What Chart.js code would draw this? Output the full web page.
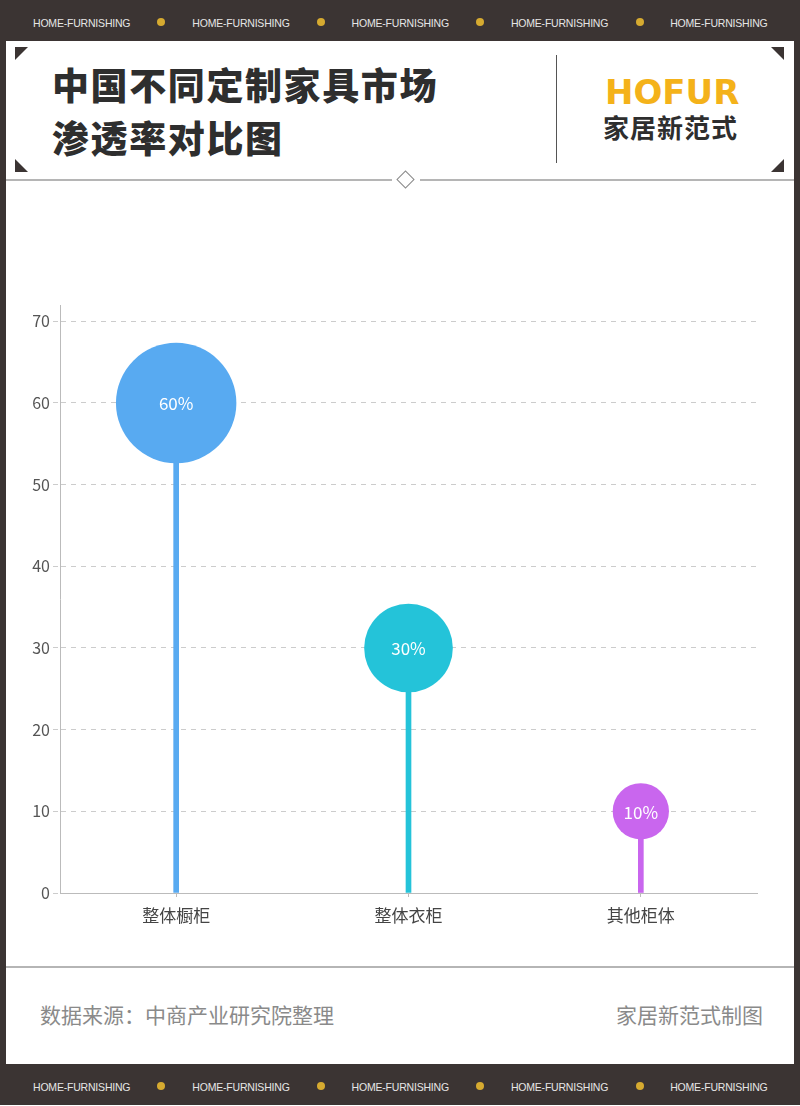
<!DOCTYPE html>
<html>
<head>
<meta charset="utf-8">
<script src="https://cdn.jsdelivr.net/npm/chart.js@4.4.1/dist/chart.umd.min.js"></script>
<style>
  html, body { margin: 0; padding: 0; background: #fff; }
  #page { position: relative; width: 800px; height: 1106px; overflow: hidden; background: #fff;
          font-family: "Noto Sans CJK SC", "Noto Sans", sans-serif; }
  .band { position: absolute; left: 0; width: 800px; height: 41px; background: #3b3433; }
  .band span.t { position: absolute; top: 3px; line-height: 40px; font-family: "Liberation Sans", sans-serif;
                 font-size: 10.5px; color: #e6e6e6; letter-spacing: -0.2px; }
  .band span.d { position: absolute; width: 8px; height: 8px; border-radius: 50%; background: #d6aa30; }
  .side { position: absolute; top: 40px; width: 6px; height: 1026px; background: #3b3433; }
  .tri { position: absolute; width: 0; height: 0; }
  .title { position: absolute; left: 52px; color: #2e2e2e; font-size: 37px; font-weight: 900; letter-spacing: 1.6px; }
  .hline { position: absolute; height: 2px; background: #b5b5b5; }
  #foot-l, #foot-r { position: absolute; top: 999px; font-size: 21px; color: #8a8a8a; }
</style>
</head>
<body>
<div id="page">
  <div class="band" id="topband" style="top:0"></div>
  <div class="band" id="botband" style="top:1064px"></div>
  <div class="side" style="left:0"></div>
  <div class="side" style="right:0"></div>

  <!-- corner triangles -->
  <div class="tri" style="left:15px;top:47px;border-top:13px solid #3b3433;border-right:13px solid transparent"></div>
  <div class="tri" style="left:771px;top:47px;border-top:13px solid #3b3433;border-left:13px solid transparent"></div>
  <div class="tri" style="left:15px;top:159px;border-bottom:13px solid #3b3433;border-right:13px solid transparent"></div>
  <div class="tri" style="left:771px;top:159px;border-bottom:13px solid #3b3433;border-left:13px solid transparent"></div>

  <div class="title" style="top:57px">中国不同定制家具市场</div>
  <div class="title" style="top:110px">渗透率对比图</div>

  <div style="position:absolute;left:556px;top:55px;width:1px;height:108px;background:#555"></div>
  <div style="position:absolute;left:605px;top:72px;font-family:'DejaVu Sans',sans-serif;font-weight:bold;font-size:34px;color:#f4b21a;letter-spacing:0">HOFUR</div>
  <div style="position:absolute;left:603px;top:108px;font-size:26px;font-weight:bold;color:#2e2e2e;letter-spacing:1px">家居新范式</div>

  <div class="hline" style="left:6px;top:179px;width:386px"></div>
  <div class="hline" style="left:420px;top:179px;width:374px"></div>
  <div style="position:absolute;left:399px;top:173px;width:11px;height:11px;border:1.5px solid #8a8a8a;background:#fff;transform:rotate(45deg)"></div>

  <canvas id="chart" width="800" height="770" style="position:absolute;left:0;top:190px"></canvas>

  <div class="hline" style="left:6px;top:966px;width:788px"></div>
  <div id="foot-l" style="left:40px">数据来源：中商产业研究院整理</div>
  <div id="foot-r" style="right:37px">家居新范式制图</div>
</div>

<script>
const categories = ['整体橱柜', '整体衣柜', '其他柜体'];
const shares = [60, 30, 10];
const colors = ['#58aaf1', '#24c3d9', '#c966ee'];
const bandText = 'HOME-FURNISHING';

// header / footer bands
['topband', 'botband'].forEach(id => {
    const band = document.getElementById(id);
    for (let i = 0; i < 5; i++) {
        const t = document.createElement('span');
        t.className = 't';
        t.textContent = bandText;
        t.style.left = (33 + i * 159.3) + 'px';
        band.appendChild(t);
        if (i < 4) {
            const d = document.createElement('span');
            d.className = 'd';
            d.style.left = (157 + i * 159.7) + 'px';
            d.style.top = '18px';
            band.appendChild(d);
        }
    }
});

// bubble size grows with the share
const bubbleRadius = v => 7 * Math.sqrt(v) + 6;

const bubbleLabels = {
    id: 'bubbleLabels',
    afterDatasetsDraw(chart) {
        const ctx = chart.ctx;
        const meta = chart.getDatasetMeta(0);
        ctx.save();
        ctx.fillStyle = '#ffffff';
        ctx.textAlign = 'center';
        ctx.textBaseline = 'middle';
        ctx.font = '17px "Noto Sans CJK SC", "Noto Sans", sans-serif';
        meta.data.forEach((pt, i) => {
            ctx.fillText(shares[i] + '%', pt.x, pt.y + 1);
        });
        ctx.restore();
    }
};

new Chart(document.getElementById('chart').getContext('2d'), {
    data: {
        labels: categories,
        datasets: [
            {
                type: 'line',
                data: shares,
                showLine: false,
                pointRadius: c => bubbleRadius(c.raw),
                pointHoverRadius: c => bubbleRadius(c.raw),
                pointBackgroundColor: colors,
                pointBorderWidth: 0,
                pointHoverBorderWidth: 0
            },
            {
                type: 'bar',
                data: shares,
                backgroundColor: colors,
                barThickness: 5
            }
        ]
    },
    options: {
        responsive: false,
        animation: false,
        events: [],
        layout: { autoPadding: false, padding: { left: 10, right: 43, top: 115, bottom: 27 } },
        plugins: { legend: { display: false }, tooltip: { enabled: false } },
        scales: {
            x: {
                afterFit: s => { s.height = 40; s.paddingLeft = 0; s.paddingRight = 0; },
                grid: { drawOnChartArea: false, offset: false, tickLength: 4, color: '#bbbbbb' },
                border: { color: '#bbbbbb', width: 1 },
                ticks: { padding: 8, color: '#444', font: { size: 17, family: '"Noto Sans CJK SC", sans-serif' } }
            },
            y: {
                min: 0,
                max: 72,
                afterFit: s => { s.width = 50; },
                grid: { color: '#cccccc', tickBorderDash: [5, 5], tickLength: 7 },
                border: { color: '#bbbbbb', width: 1, dash: [5, 5] },
                ticks: { stepSize: 10, includeBounds: false, padding: 3, color: '#555',
                         font: { size: 16, family: '"Noto Sans CJK SC", sans-serif' } }
            }
        }
    },
    plugins: [bubbleLabels]
});
</script>
</body>
</html>
